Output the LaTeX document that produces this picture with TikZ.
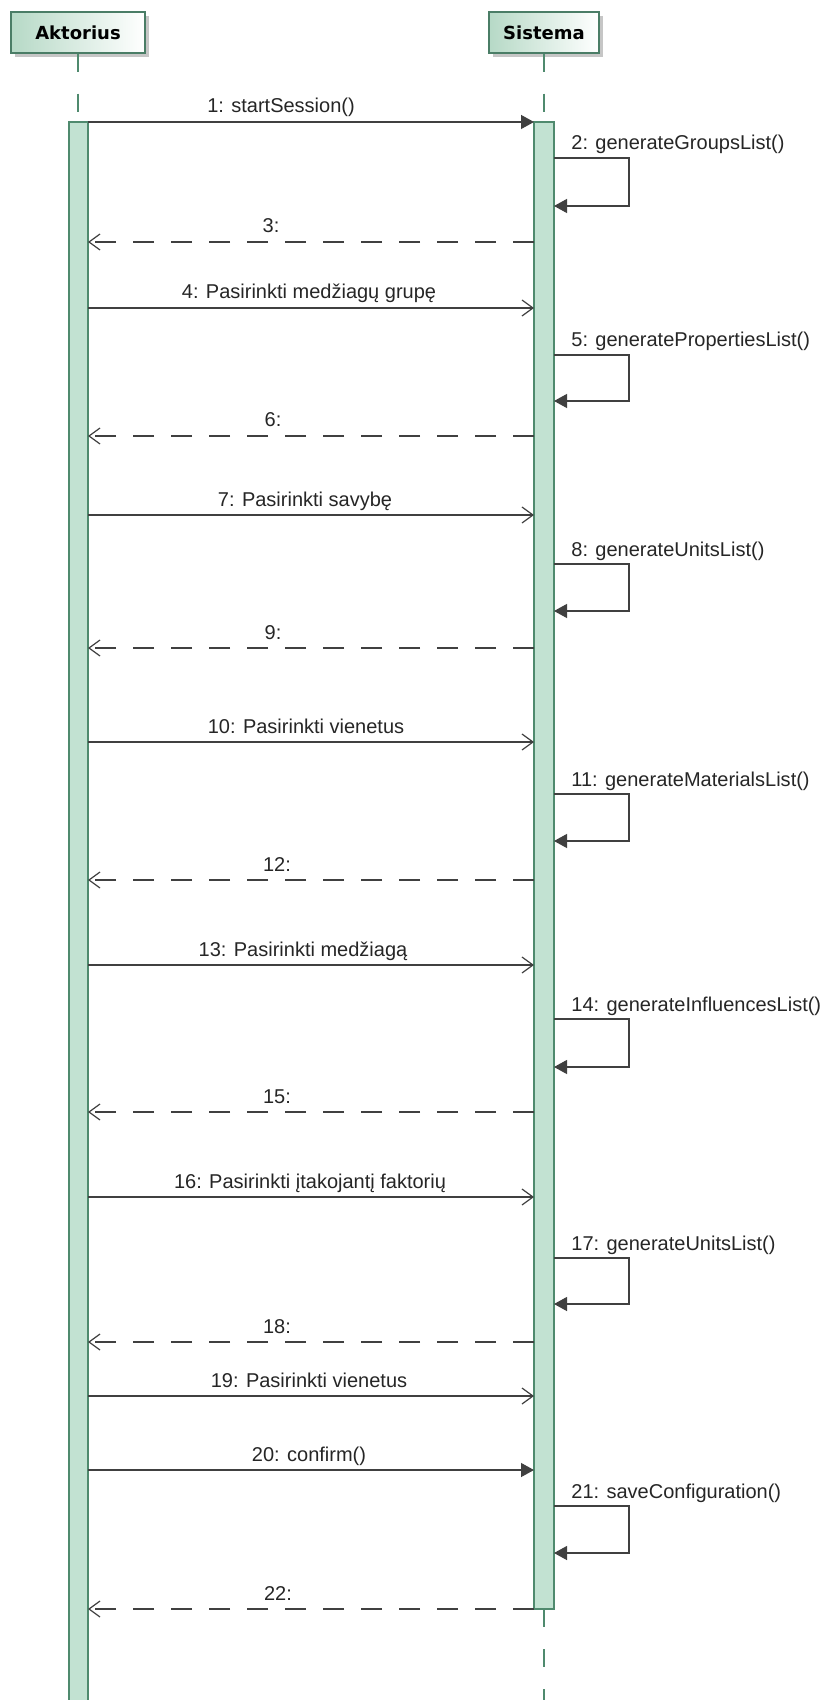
\documentclass[tikz,border=0pt]{standalone}
\usepackage{fontspec}
\setmainfont{Liberation Sans}
\newfontfamily\headfont{DejaVu Sans}
\usetikzlibrary{arrows.meta,shadows}
\definecolor{boxedge}{HTML}{4A7D66}
\definecolor{boxfill}{HTML}{B6D9C6}
\definecolor{barfill}{HTML}{C2E2D2}
\definecolor{baredge}{HTML}{4F8A6E}
\definecolor{msgline}{HTML}{404040}
\definecolor{shadowgrey}{HTML}{C6C6C6}

\begin{document}
\begin{tikzpicture}[x=0.5pt,y=-0.5pt,
  actorbox/.style={draw=boxedge, line width=0.75pt, left color=boxfill, right color=white,
    minimum height=20.5pt, inner sep=0pt,
    font=\headfont\bfseries\fontsize{9}{11}\selectfont,
    drop shadow={shadow xshift=2pt, shadow yshift=-2pt, fill=shadowgrey, opacity=1}},
  lifeline/.style={draw=baredge, line width=0.6pt, dash pattern=on 9pt off 11pt},
  actbar/.style={draw=baredge, fill=barfill, line width=0.6pt},
  msg/.style={draw=msgline, line width=0.6pt},
  callsync/.style={msg, -{Triangle[length=6.5pt,width=7pt]}},
  callasync/.style={msg, -{Straight Barb[length=5.5pt,width=8pt]}},
  reply/.style={msg, dash pattern=on 10.5pt off 8.5pt, -{Straight Barb[length=5.5pt,width=8pt]}},
  msglabel/.style={font=\fontsize{10}{12}\selectfont, inner sep=0pt, anchor=base, text=black!85},
  selflabel/.style={msglabel, anchor=base west},
]
\useasboundingbox (0,0) rectangle (832,1700);
\fill[white] (0,0) rectangle (832,1700);

% participants
\node[actorbox, minimum width=67pt] (aktor) at (78,32.5) {Aktorius};
\node[actorbox, minimum width=55pt] (sist) at (544,32.5) {Sistema};

% lifelines and activation bars
\coordinate (aTop) at (78,122);
\coordinate (sTop) at (544,122);
\coordinate (sEnd) at (544,1609);
\coordinate (sFoot) at (544,1700);
\draw[lifeline] (aktor.south) -- (aTop);
\draw[lifeline] (sist.south) -- (sTop);
\draw[lifeline] (sEnd) -- (sFoot);
\draw[actbar] (69,122) rectangle (88,1706);
\draw[actbar] (534,122) rectangle (554,1609);

% synchronous calls from the actor
\foreach \n/\y/\lx/\txt in {1/122/281/{1: startSession()}, 20/1470/309/{20: confirm()}}{
  \coordinate (c\n a) at (88,\y);
  \coordinate (c\n b) at (534,\y);
  \draw[callsync] (c\n a) -- (c\n b);
  \node[msglabel] (lc\n) at (\lx,\y-9) {\txt};
}

% asynchronous calls from the actor
\foreach \n/\y/\lx/\txt in {
  4/308/309/{4: Pasirinkti medžiagų grupę},
  7/515/305/{7: Pasirinkti savybę},
  10/742/306/{10: Pasirinkti vienetus},
  13/965/303/{13: Pasirinkti medžiagą},
  16/1197/310/{16: Pasirinkti įtakojantį faktorių},
  19/1396/309/{19: Pasirinkti vienetus}}{
  \coordinate (c\n a) at (88,\y);
  \coordinate (c\n b) at (534,\y);
  \draw[callasync] (c\n a) -- (c\n b);
  \node[msglabel] (lc\n) at (\lx,\y-9) {\txt};
}

% replies back to the actor
\foreach \n/\y/\lx in {3/242/271, 6/436/273, 9/648/273, 12/880/277, 15/1112/277, 18/1342/277, 22/1609/278}{
  \coordinate (r\n a) at (534,\y);
  \coordinate (r\n b) at (88,\y);
  \draw[reply] (r\n a) -- (r\n b);
  \node[msglabel] (lr\n) at (\lx,\y-9) {\n:};
}

% self calls of the system
\foreach \n/\t/\b/\txt in {
  2/158/206/{generateGroupsList()},
  5/355/401/{generatePropertiesList()},
  8/564/611/{generateUnitsList()},
  11/794/841/{generateMaterialsList()},
  14/1019/1067/{generateInfluencesList()},
  17/1258/1304/{generateUnitsList()},
  21/1506/1553/{saveConfiguration()}}{
  \coordinate (s\n a) at (554,\t);
  \coordinate (s\n b) at (554,\b);
  \draw[callsync] (s\n a) -- ++(75,0) |- (s\n b);
  \node[selflabel] (ls\n) at (571,\t-8) {\n: \txt};
}
\end{tikzpicture}
\end{document}
